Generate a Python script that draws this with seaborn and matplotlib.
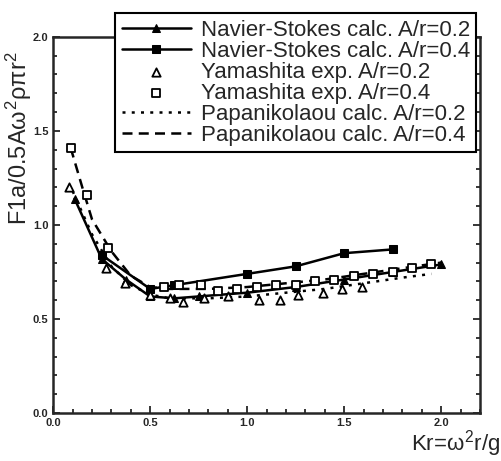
import matplotlib
matplotlib.use("Agg")
import matplotlib.pyplot as plt
import seaborn as sns
import numpy as np
from matplotlib.ticker import MultipleLocator

# ---- data ----
ns02_x = [0.11, 0.25, 0.375, 0.5, 0.625, 0.75, 1.0, 1.25, 1.5, 1.75, 2.0]
ns02_y = [1.14, 0.82, 0.71, 0.62, 0.61, 0.62, 0.64, 0.67, 0.71, 0.75, 0.79]

ns04_x = [0.25, 0.5, 0.625, 1.0, 1.25, 1.5, 1.75]
ns04_y = [0.84, 0.66, 0.68, 0.74, 0.78, 0.85, 0.87]

ya02_x = [0.08, 0.27, 0.37, 0.5, 0.6, 0.67, 0.78, 0.9, 1.06, 1.17, 1.26, 1.39, 1.49, 1.59]
ya02_y = [1.20, 0.77, 0.69, 0.63, 0.61, 0.59, 0.61, 0.62, 0.60, 0.60, 0.63, 0.64, 0.66, 0.67]

ya04_x = [0.09, 0.175, 0.28, 0.57, 0.65, 0.76, 0.85, 0.95, 1.05, 1.15, 1.25, 1.35,
          1.45, 1.55, 1.65, 1.75, 1.85, 1.95]
ya04_y = [1.41, 1.16, 0.88, 0.67, 0.68, 0.68, 0.65, 0.66, 0.67, 0.68, 0.68, 0.70,
          0.71, 0.73, 0.74, 0.75, 0.77, 0.79]

pa02_x = [0.1, 0.2, 0.3, 0.4, 0.5, 0.6, 0.8, 1.0, 1.2, 1.4, 1.6, 1.8, 1.95]
pa02_y = [1.18, 0.95, 0.78, 0.68, 0.63, 0.61, 0.61, 0.62, 0.64, 0.66, 0.69, 0.72, 0.74]

pa04_x = [0.09, 0.15, 0.2, 0.3, 0.4, 0.5, 0.6, 0.8, 1.0, 1.2, 1.4, 1.6, 1.8, 2.0]
pa04_y = [1.41, 1.20, 1.03, 0.86, 0.73, 0.67, 0.66, 0.66, 0.67, 0.69, 0.71, 0.74, 0.77, 0.80]

labels = ["Navier-Stokes calc. A/r=0.2", "Navier-Stokes calc. A/r=0.4",
          "Yamashita exp. A/r=0.2", "Yamashita exp. A/r=0.4",
          "Papanikolaou calc. A/r=0.2", "Papanikolaou calc. A/r=0.4"]

sns.set_style("ticks")
plt.rcParams['font.family'] = ['Liberation Sans', 'DejaVu Sans']
plt.rcParams['mathtext.fontset'] = 'custom'
plt.rcParams['mathtext.rm'] = 'Liberation Sans'
plt.rcParams['mathtext.it'] = 'Liberation Sans'

fig = plt.figure(figsize=(5.02, 4.61), dpi=100)
ax = fig.add_axes([0.106, 0.104, 0.850, 0.816])

k = 'black'
sns.lineplot(x=ns02_x, y=ns02_y, ax=ax, color=k, lw=1.8, marker='^', markersize=6,
             markeredgecolor=k, label=labels[0], sort=False)
sns.lineplot(x=ns04_x, y=ns04_y, ax=ax, color=k, lw=1.8, marker='s', markersize=6,
             markeredgecolor=k, label=labels[1], sort=False)
sns.scatterplot(x=ya02_x, y=ya02_y, ax=ax, marker='^', s=36, facecolor='white',
                edgecolor=k, linewidth=1.3, label=labels[2], zorder=4)
sns.scatterplot(x=ya04_x, y=ya04_y, ax=ax, marker='s', s=28, facecolor='white',
                edgecolor=k, linewidth=1.3, label=labels[3], zorder=4)
sns.lineplot(x=pa02_x, y=pa02_y, ax=ax, color=k, lw=1.8, linestyle=(0, (1.2, 2.5)),
             label=labels[4], sort=False)
sns.lineplot(x=pa04_x, y=pa04_y, ax=ax, color=k, lw=1.8, linestyle=(0, (4, 2.5)),
             label=labels[5], sort=False)

ax.set_xlim(0, 2.2)
ax.set_ylim(0, 2.0)
ax.xaxis.set_minor_locator(MultipleLocator(0.1))
ax.yaxis.set_minor_locator(MultipleLocator(0.1))
ax.set_xticks([0, 0.5, 1.0, 1.5, 2.0])
ax.set_xticklabels(["0.0", "0.5", "1.0", "1.5", "2.0"])
ax.set_yticks([0, 0.5, 1.0, 1.5, 2.0])
ax.set_yticklabels(["0.0", "0.5", "1.0", "1.5", "2.0"])
ax.tick_params(axis='both', which='both', direction='in', right=True, top=False,
               labelsize=8, width=1.3)
ax.tick_params(which='major', length=5)
ax.tick_params(which='minor', length=3)
for lbl in ax.get_xticklabels() + ax.get_yticklabels():
    lbl.set_fontweight('bold')
for sp in ax.spines.values():
    sp.set_linewidth(1.8)
    sp.set_visible(True)

ax.set_xlabel("")
ax.set_ylabel("")
fig.text(0.038, 0.70, r"F1a/0.5A$\omega^2\rho\pi$r$^2$", rotation=90, ha='center',
         va='center', fontsize=17)
fig.text(0.998, 0.004, r"Kr=$\omega^2$r/g", ha='right', va='bottom', fontsize=16)

leg = ax.legend(loc='upper left', bbox_to_anchor=(0.229, 0.972),
                bbox_transform=fig.transFigure, frameon=True, fancybox=False,
                fontsize=16, handlelength=3.1, labelspacing=0.0, borderpad=0.3,
                handletextpad=0.45, numpoints=1, scatterpoints=1, borderaxespad=0)
leg.get_frame().set_edgecolor('black')
leg.get_frame().set_linewidth(1.5)
leg.get_frame().set_alpha(1)
leg.set_zorder(10)

fig.savefig("out.png", dpi=100)
